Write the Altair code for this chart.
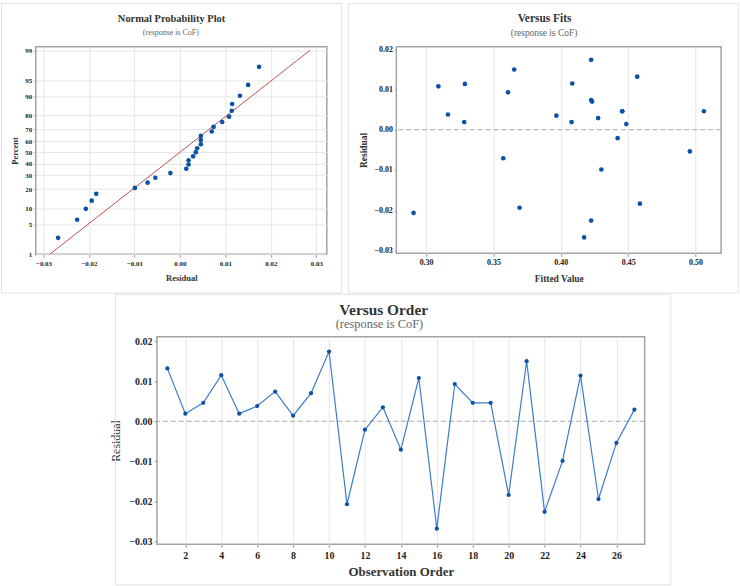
import altair as alt
import pandas as pd
from statistics import NormalDist

# ---- data -----------------------------------------------------------------
observation = list(range(1, 28))
residual = [0.0132, 0.0019, 0.0046, 0.0115, 0.0019, 0.0038, 0.0074, 0.0014, 0.0070, 0.0174,
            -0.0207, -0.0021, 0.0035, -0.0071, 0.0108, -0.0268, 0.0093, 0.0046, 0.0046, -0.0184,
            0.0150, -0.0226, -0.0099, 0.0114, -0.0194, -0.0054, 0.0029]
fitted = [0.4567, 0.3283, 0.5062, 0.4085, 0.4080, 0.3162, 0.4225, 0.4486, 0.4232, 0.4225,
          0.2907, 0.4422, 0.3967, 0.3573, 0.3091, 0.4173, 0.3608, 0.4456, 0.4456, 0.4587,
          0.3654, 0.4225, 0.4301, 0.3288, 0.3694, 0.4958, 0.4277]

percent_ticks = [1, 5, 10, 20, 30, 40, 50, 60, 70, 80, 90, 95, 99]
residual_ticks = [-0.03, -0.02, -0.01, 0.00, 0.01, 0.02, 0.03]
resid_y_ticks = [-0.03, -0.02, -0.01, 0.00, 0.01, 0.02]
fit_ticks = [0.30, 0.35, 0.40, 0.45, 0.50]
order_ticks = list(range(2, 27, 2))

# ---- normal scores (median ranks) and the fitted normal line --------------
nd = NormalDist()
n = len(residual)
rank = [0] * n
for r, i in enumerate(sorted(range(n), key=lambda k: residual[k]), start=1):
    rank[i] = r
zscore = [nd.inv_cdf((rank[i] - 0.3) / (n + 0.4)) for i in range(n)]
mean = sum(residual) / n
sd = (sum((v - mean) ** 2 for v in residual) / (n - 1)) ** 0.5
z_lo, z_hi = nd.inv_cdf(0.01), nd.inv_cdf(0.99)
z_ticks = [nd.inv_cdf(p / 100) for p in percent_ticks]

df = pd.DataFrame({"obs": observation, "residual": residual, "fitted": fitted, "z": zscore})
fit_line = pd.DataFrame({"residual": [mean + sd * z_lo, mean + sd * z_hi], "z": [z_lo, z_hi]})
one = pd.DataFrame({"k": [0]})

FONT = "Liberation Serif"
POINT = "#0b52a6"
LINE = "#3b7bcc"
FIT = "#c0504d"
PANEL = "#e2e2e2"


def box(x, x2, y, y2, visible=True):
    if visible:
        m = alt.Chart(one).mark_rect(fill="transparent", stroke=PANEL, strokeWidth=1)
    else:
        m = alt.Chart(one).mark_rect(opacity=0)
    return m.encode(x=alt.value(x), x2=alt.value(x2), y=alt.value(y), y2=alt.value(y2))


def text(t, x, y, size, weight="normal", color="#333333"):
    return alt.Chart(one).mark_text(
        text=t, font=FONT, fontSize=size, fontWeight=weight, color=color,
        align="center", baseline="middle"
    ).encode(x=alt.value(x), y=alt.value(y))


def zero_rule():
    return alt.Chart(one).mark_rule(color="#a8a8a8", strokeDash=[5, 3], strokeWidth=1).encode(
        y=alt.datum(0)
    )


# ---- Normal probability plot ----------------------------------------------
np_x = alt.X("residual:Q",
             scale=alt.Scale(domain=[-0.0317, 0.0323], nice=False, zero=False),
             axis=alt.Axis(values=residual_ticks, format=".2f", title="Residual",
                           labelFontSize=7, titleFontSize=8.5, tickSize=3, labelPadding=2,
                           titlePadding=7))
np_y = alt.Y("z:Q",
             scale=alt.Scale(domain=[z_lo, 2.41], nice=False, zero=False),
             axis=alt.Axis(values=z_ticks,
                           labelExpr="format(cumulativeNormal(datum.value) * 100, '.0f')",
                           title="Percent", labelFontSize=7, titleFontSize=8.5, tickSize=2,
                           labelPadding=2, titlePadding=5))

normal = alt.layer(
    box(-34.5, 308, -43.5, 248),
    alt.Chart(fit_line).mark_line(color=FIT, strokeWidth=1).encode(x=np_x, y=np_y),
    alt.Chart(df).mark_circle(size=22, color=POINT, opacity=1).encode(x=np_x, y=np_y),
    text("Normal Probability Plot", 136.7, -28.3, 10.5, "bold"),
    text("(response is CoF)", 136, -14, 8, color="#666666"),
).properties(width=293, height=209)

# ---- Versus fits ----------------------------------------------------------
vf_x = alt.X("fitted:Q",
             scale=alt.Scale(domain=[0.2779, 0.519], nice=False, zero=False),
             axis=alt.Axis(values=fit_ticks, format=".2f", title="Fitted Value",
                           labelFontSize=8, titleFontSize=9.5, tickSize=3, labelPadding=2,
                           titlePadding=7))
vf_y = alt.Y("residual:Q",
             scale=alt.Scale(domain=[-0.03074, 0.02067], nice=False, zero=False),
             axis=alt.Axis(values=resid_y_ticks, format=".2f", title="Residual",
                           labelFontSize=8, titleFontSize=9.5, tickSize=2, labelPadding=2,
                           titlePadding=5))

fits = alt.layer(
    box(-48.3, 344.2, -43.5, 248),
    zero_rule(),
    alt.Chart(df).mark_circle(size=22, color=POINT, opacity=1).encode(x=vf_x, y=vf_y),
    text("Versus Fits", 149.2, -28.3, 11.5, "bold"),
    text("(response is CoF)", 148.7, -14, 9.5, color="#666666"),
).properties(width=327, height=208)

# ---- Versus order ---------------------------------------------------------
vo_x = alt.X("obs:Q",
             scale=alt.Scale(domain=[0.42, 27.57], nice=False, zero=False),
             axis=alt.Axis(values=order_ticks, format="d", title="Observation Order",
                           labelFontSize=10, titleFontSize=13, tickSize=3, labelPadding=3,
                           titlePadding=5))
vo_y = alt.Y("residual:Q",
             scale=alt.Scale(domain=[-0.0307, 0.0211], nice=False, zero=False),
             axis=alt.Axis(values=resid_y_ticks, format=".2f", title="Residual",
                           labelFontSize=10, titleFontSize=12, titleFontWeight="normal",
                           tickSize=3, labelPadding=2, titlePadding=6))

order = alt.layer(
    box(-41.7, 517.3, -42.7, 249.8),
    zero_rule(),
    alt.Chart(df).mark_line(color=LINE, strokeWidth=1.2).encode(x=vo_x, y=vo_y),
    alt.Chart(df).mark_circle(size=18, color=POINT, opacity=1).encode(x=vo_x, y=vo_y),
    text("Versus Order", 228.3, -26.7, 15.5, "bold"),
    text("(response is CoF)", 224, -12.4, 12.5, color="#666666"),
).properties(width=491, height=209)

# empty cell that shifts the lower panel to the right
GAP = 72.5
gap = box(0, GAP, 0, 209, visible=False).properties(
    width=GAP, height=209, view=alt.ViewBackground(stroke="transparent")
)

chart = alt.vconcat(
    alt.hconcat(normal, fits, spacing=3),
    alt.hconcat(gap, order, spacing=0),
    spacing=-2,
).properties(
    padding=0, background="white"
).configure_view(
    stroke="#a3a3a3", strokeWidth=1.5
).configure_axis(
    labelFont=FONT, titleFont=FONT, labelFontWeight="bold", titleFontWeight="bold",
    labelColor="#222222", titleColor="#333333", gridColor="#e6e6e6", gridWidth=1,
    domain=False, tickColor="#9a9a9a"
)

chart.save("out.html", embed_options={"renderer": "svg", "actions": False})
